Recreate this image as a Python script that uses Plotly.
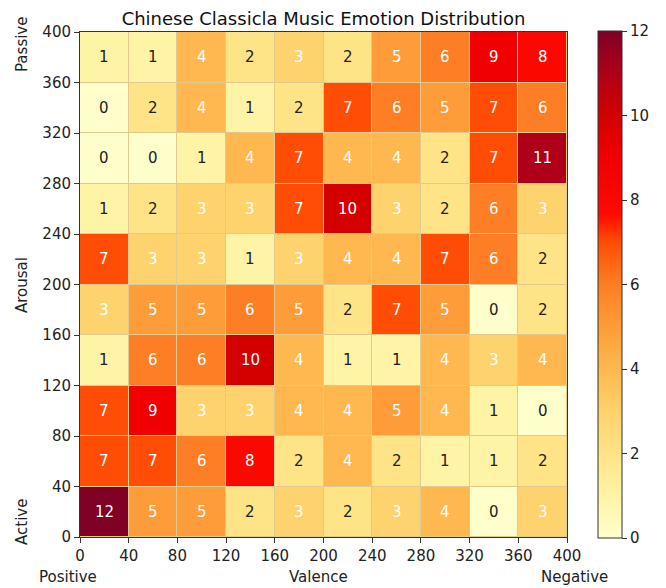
import plotly.graph_objects as go

# Values per row, listed from bottom row (Arousal 0-40) to top row (360-400)
valence_centers = [20, 60, 100, 140, 180, 220, 260, 300, 340, 380]
arousal_centers = [20, 60, 100, 140, 180, 220, 260, 300, 340, 380]
counts = [
    [12, 5, 5, 2, 3, 2, 3, 4, 0, 3],
    [7, 7, 6, 8, 2, 4, 2, 1, 1, 2],
    [7, 9, 3, 3, 4, 4, 5, 4, 1, 0],
    [1, 6, 6, 10, 4, 1, 1, 4, 3, 4],
    [3, 5, 5, 6, 5, 2, 7, 5, 0, 2],
    [7, 3, 3, 1, 3, 4, 4, 7, 6, 2],
    [1, 2, 3, 3, 7, 10, 3, 2, 6, 3],
    [0, 0, 1, 4, 7, 4, 4, 2, 7, 11],
    [0, 2, 4, 1, 2, 7, 6, 5, 7, 6],
    [1, 1, 4, 2, 3, 2, 5, 6, 9, 8],
]
tick_vals = [0, 40, 80, 120, 160, 200, 240, 280, 320, 360, 400]

colorscale = [
    [0.0, "#ffffcc"],
    [0.083, "#fff3a6"],
    [0.167, "#fee387"],
    [0.25, "#fed26c"],
    [0.333, "#feb84f"],
    [0.417, "#fd9c38"],
    [0.5, "#fd7e25"],
    [0.583, "#ff4d05"],
    [0.64, "#ff0a00"],
    [0.75, "#f00000"],
    [0.833, "#d40000"],
    [0.917, "#ae0018"],
    [1.0, "#800026"],
]

font = "DejaVu Sans"
OFF = 8  # page body margin
W, H = 666 - OFF, 588 - OFF
L, T = 80 - OFF, 32 - OFF
R, B = W - (567 - OFF), H - (537 - OFF)
pw, ph = W - L - R, H - T - B

fig = go.Figure()
fig.add_trace(go.Heatmap(
    x=valence_centers, y=arousal_centers, z=counts,
    zmin=0, zmax=12, colorscale=colorscale,
    xgap=1, ygap=1,
    hoverinfo="skip",
    colorbar=dict(
        x=(598 - OFF - L) / pw, xanchor="left", xref="paper",
        y=0.5, yanchor="middle", len=507 / ph, lenmode="fraction",
        xpad=0, ypad=0,
        thickness=24, outlinewidth=1, outlinecolor="#333",
        tickvals=[0, 2, 4, 6, 8, 10, 12],
        ticks="outside", ticklen=5, tickcolor="#333",
        tickfont=dict(family=font, size=15, color="#222"),
    ),
))

annotations = []
for ri, row in enumerate(counts):
    for ci, v in enumerate(row):
        annotations.append(dict(
            x=valence_centers[ci], y=arousal_centers[ri], xref="x", yref="y",
            text=str(v), showarrow=False,
            font=dict(family=font, size=15, color="white" if v >= 3 else "#222"),
        ))

# side labels (page pixel positions converted to plot-domain paper coords)
side = [
    ("Passive", 22, 45, -90),
    ("Arousal", 22, 285, -90),
    ("Active", 22, 522, -90),
    ("Positive", 68, 577, 0),
    ("Valence", 318, 577, 0),
    ("Negative", 574, 577, 0),
]
for text, px, py, ang in side:
    annotations.append(dict(
        text=text, x=(px - OFF - L) / pw, y=1 - (py - OFF - T) / ph,
        xref="paper", yref="paper", showarrow=False, textangle=ang,
        xanchor="center", yanchor="middle",
        font=dict(family=font, size=15, color="#222"),
    ))

axis_common = dict(
    range=[0, 400], tickvals=tick_vals, ticks="outside", ticklen=5,
    tickcolor="#333", showgrid=False, zeroline=False,
    showline=True, linecolor="#333", linewidth=1, mirror=True,
    tickfont=dict(family=font, size=15, color="#222"),
)

fig.update_layout(
    width=W, height=H,
    margin=dict(l=L, r=R, t=T, b=B, autoexpand=False),
    paper_bgcolor="white", plot_bgcolor="#e2c98e",
    title=dict(text="Chinese Classicla Music Emotion Distribution",
               x=(L + pw / 2) / W, xanchor="center", y=1 - (19 - OFF) / H, yanchor="middle",
               font=dict(family=font, size=18, color="#111")),
    xaxis=dict(**axis_common),
    yaxis=dict(**axis_common),
    annotations=annotations,
)

fig.write_html("out.html")
